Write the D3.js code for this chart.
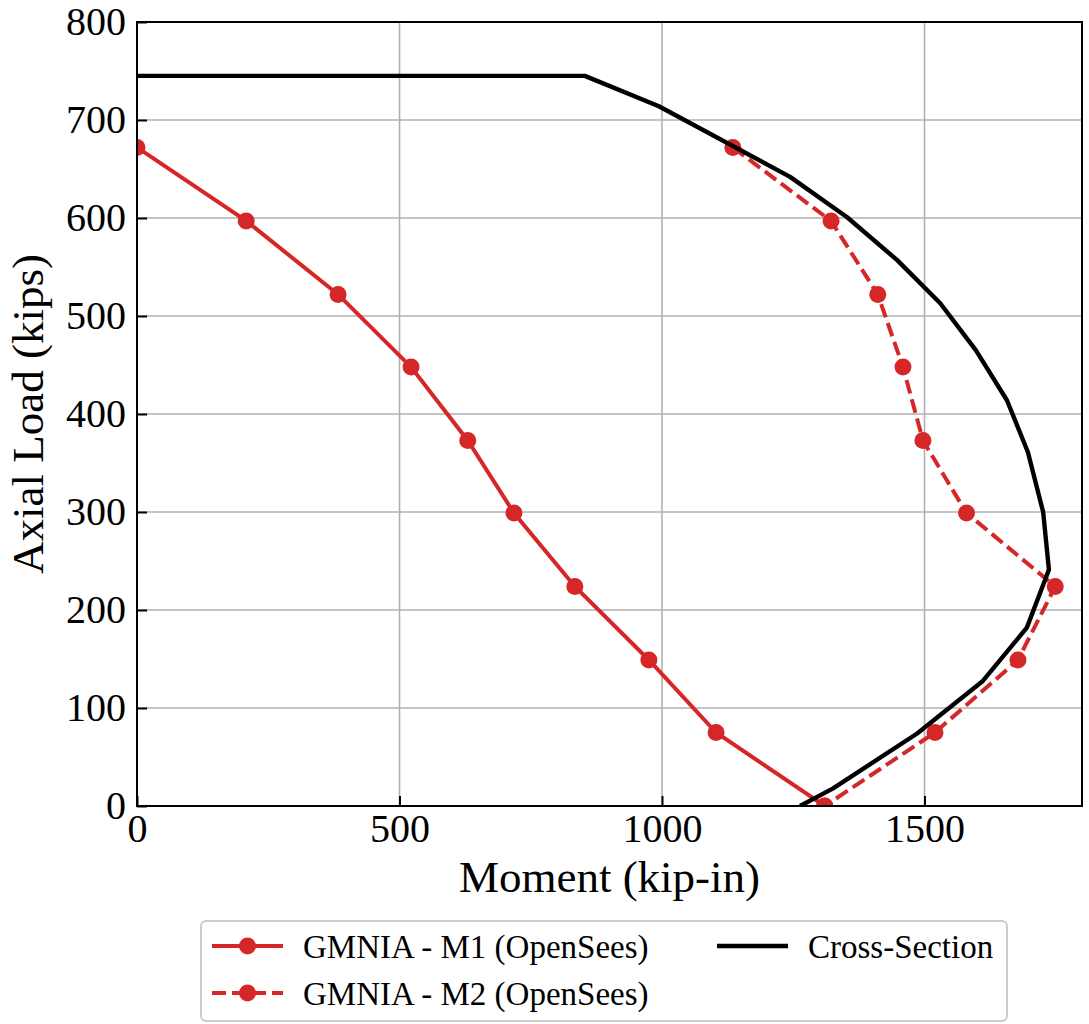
<!DOCTYPE html>
<html lang="en">
   <head>
      <meta charset="UTF-8" />
      <title>Axial Load vs Moment</title>
      <style>
         body { margin: 0; background: #fff; }
         text { font-family: "Liberation Serif", "Times New Roman", serif; fill: #000; }
      </style>
   </head>
   <body>
      <svg width="1089" height="1024"></svg>
      <script src="https://d3js.org/d3.v7.min.js"></script>
      <script>
        // GMNIA - M1 (OpenSees)
        var m1Moment = [0, 208, 383, 522, 630, 718, 834, 975, 1103, 1310];
        var m1Load   = [672, 597, 522, 448, 373, 299, 224, 149, 75, 0];

        // GMNIA - M2 (OpenSees)
        var m2Moment = [1135, 1322, 1411, 1459, 1497, 1580, 1749, 1678, 1520, 1310];
        var m2Load   = [672, 597, 522, 448, 373, 299, 224, 149, 75, 0];

        // Cross-Section
        var csMoment = [0, 853, 994, 1244, 1352, 1448, 1530, 1598, 1657, 1697, 1726, 1737, 1695, 1610, 1486, 1326, 1263];
        var csLoad   = [745, 745, 714, 642, 601, 557, 513, 465, 414, 361, 300, 241, 182, 127, 74, 18, 0];

        var xTicks = [0, 500, 1000, 1500];
        var yTicks = [0, 100, 200, 300, 400, 500, 600, 700, 800];

        var svg = d3.select("svg"),
            margin = {top: 22, right: 7, bottom: 218, left: 137},
            width = +svg.attr("width") - margin.left - margin.right,
            height = +svg.attr("height") - margin.top - margin.bottom,
            g = svg.append("g").attr("transform", "translate(" + margin.left + "," + margin.top + ")");

        var red = "#d62728";

        var x = d3.scaleLinear().domain([0, 1800]).range([0, width]);
        var y = d3.scaleLinear().domain([0, 800]).range([height, 0]);

        function zip(a, b) { return a.map(function(v, i) { return [v, b[i]]; }); }

        svg.append("defs").append("clipPath").attr("id", "clip")
            .append("rect").attr("width", width).attr("height", height);

        // grid
        g.append("g").selectAll("line").data(xTicks.slice(1)).enter().append("line")
            .attr("x1", function(d) { return x(d); }).attr("x2", function(d) { return x(d); })
            .attr("y1", 0).attr("y2", height)
            .attr("stroke", "#b0b0b0").attr("stroke-width", 1.6);
        g.append("g").selectAll("line").data(yTicks.slice(1, -1)).enter().append("line")
            .attr("y1", function(d) { return y(d); }).attr("y2", function(d) { return y(d); })
            .attr("x1", 0).attr("x2", width)
            .attr("stroke", "#b0b0b0").attr("stroke-width", 1.6);

        var line = d3.line()
            .x(function(d) { return x(d[0]); })
            .y(function(d) { return y(d[1]); });

        var plot = g.append("g").attr("clip-path", "url(#clip)");

        var m1 = zip(m1Moment, m1Load), m2 = zip(m2Moment, m2Load), cs = zip(csMoment, csLoad);

        plot.append("path").datum(m1)
            .attr("fill", "none").attr("stroke", red).attr("stroke-width", 4)
            .attr("d", line);
        plot.append("g").selectAll("circle").data(m1).enter().append("circle")
            .attr("cx", function(d) { return x(d[0]); })
            .attr("cy", function(d) { return y(d[1]); })
            .attr("r", 8.5).attr("fill", red);

        plot.append("path").datum(m2)
            .attr("fill", "none").attr("stroke", red).attr("stroke-width", 4)
            .attr("stroke-dasharray", "14,6")
            .attr("d", line);
        plot.append("g").selectAll("circle").data(m2).enter().append("circle")
            .attr("cx", function(d) { return x(d[0]); })
            .attr("cy", function(d) { return y(d[1]); })
            .attr("r", 8.5).attr("fill", red);

        plot.append("path").datum(cs)
            .attr("fill", "none").attr("stroke", "#000").attr("stroke-width", 4.4)
            .attr("stroke-linejoin", "round")
            .attr("d", line);

        // axes, ticks pointing inward
        var xAxis = g.append("g")
            .attr("transform", "translate(0," + height + ")")
            .call(d3.axisBottom(x).tickValues(xTicks).tickFormat(d3.format("d"))
                .tickSizeInner(-10).tickSizeOuter(0).tickPadding(8));
        var yAxis = g.append("g")
            .call(d3.axisLeft(y).tickValues(yTicks).tickFormat(d3.format("d"))
                .tickSizeInner(-10).tickSizeOuter(0).tickPadding(11));

        [xAxis, yAxis].forEach(function(a) {
            a.select(".domain").remove();
            a.selectAll("line").attr("stroke", "#000").attr("stroke-width", 2);
            a.selectAll("text").attr("font-family", "Liberation Serif").attr("font-size", 40);
        });

        g.append("rect")
            .attr("width", width).attr("height", height)
            .attr("fill", "none").attr("stroke", "#000").attr("stroke-width", 2);

        g.append("text")
            .attr("x", width / 2).attr("y", height + 86)
            .attr("text-anchor", "middle")
            .attr("font-size", 45)
            .text("Moment (kip-in)");

        g.append("text")
            .attr("transform", "rotate(-90)")
            .attr("x", -height / 2).attr("y", -margin.left + 43)
            .attr("text-anchor", "middle")
            .attr("font-size", 45)
            .text("Axial Load (kips)");

        // legend
        var legend = svg.append("g").attr("transform", "translate(201,921)");
        legend.append("rect")
            .attr("width", 806).attr("height", 100).attr("rx", 5)
            .attr("fill", "#fff").attr("stroke", "#cccccc").attr("stroke-width", 2);

        var items = [
            {label: "GMNIA - M1 (OpenSees)", color: red, dash: null, marker: true, x: 11, y: 25},
            {label: "GMNIA - M2 (OpenSees)", color: red, dash: "14,6", marker: true, x: 11, y: 72},
            {label: "Cross-Section", color: "#000", dash: null, marker: false, x: 516, y: 25}
        ];
        var li = legend.selectAll(".item").data(items).enter().append("g")
            .attr("transform", function(d) { return "translate(" + d.x + "," + d.y + ")"; });
        li.append("line")
            .attr("x1", 0).attr("x2", 71)
            .attr("stroke", function(d) { return d.color; })
            .attr("stroke-width", function(d) { return d.marker ? 4 : 4.4; })
            .attr("stroke-dasharray", function(d) { return d.dash; });
        li.filter(function(d) { return d.marker; }).append("circle")
            .attr("cx", 35.5).attr("r", 8.5).attr("fill", red);
        li.append("text")
            .attr("x", 91).attr("dy", "0.35em")
            .attr("font-size", 33)
            .text(function(d) { return d.label; });
      </script>
   </body>
</html>
